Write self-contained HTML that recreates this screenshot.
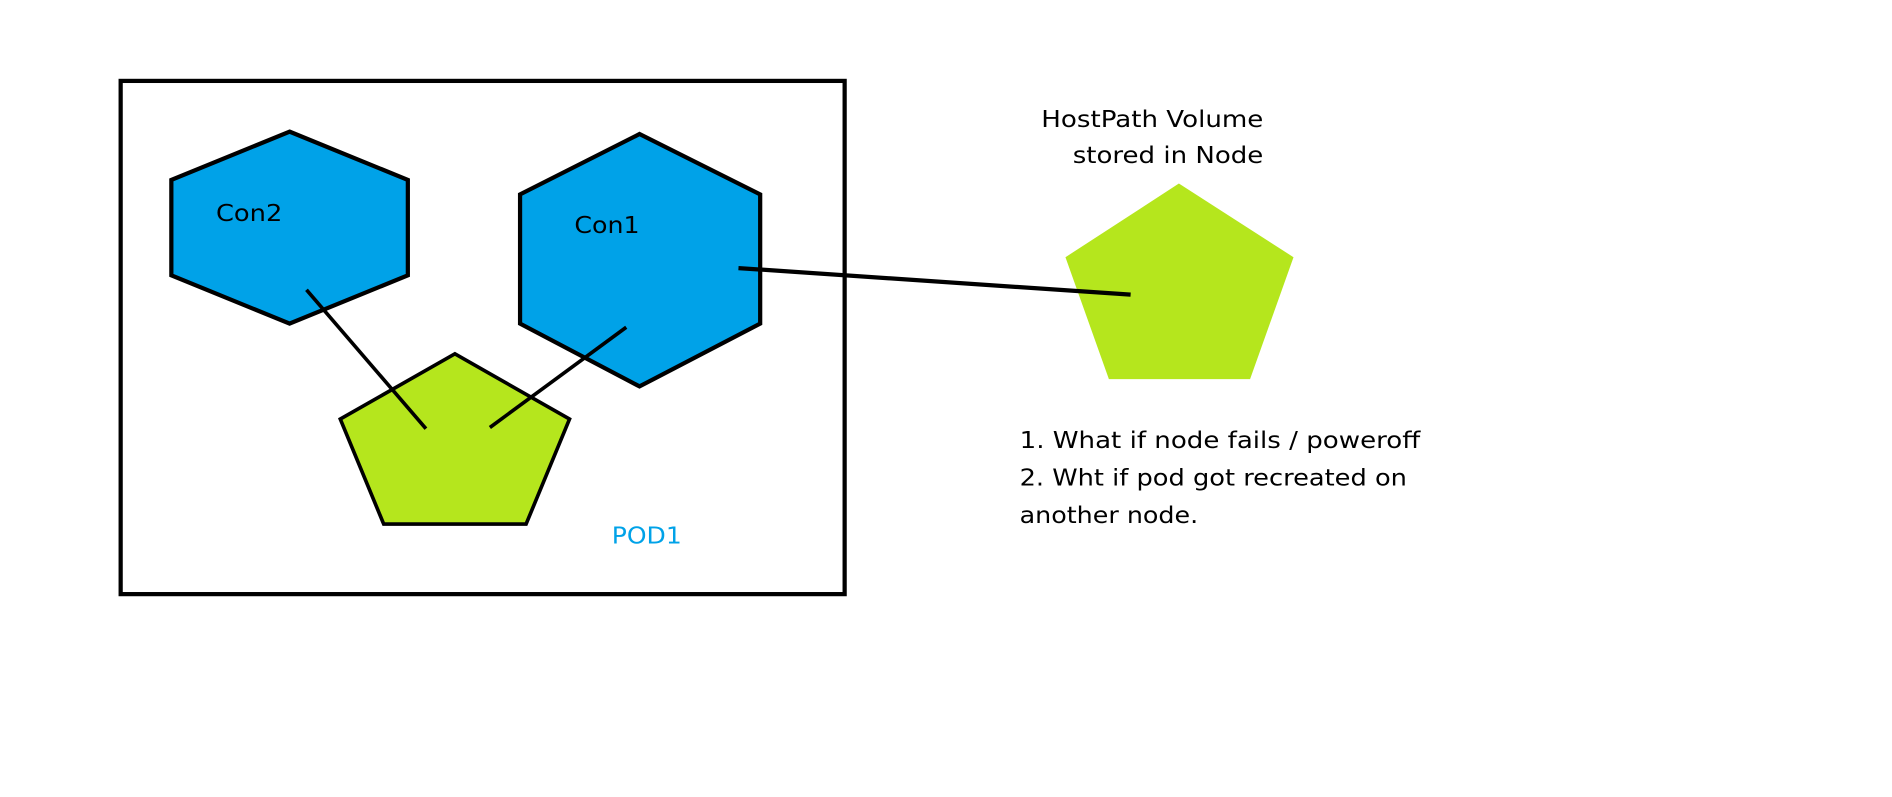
<!DOCTYPE html>
<html><head><meta charset="utf-8"><style>
html,body{margin:0;padding:0;background:#fff;}
svg{display:block;}
text{font-family:"DejaVu Sans","Liberation Sans",sans-serif;}
</style></head><body>
<svg width="1892" height="797" viewBox="0 0 1568 660" preserveAspectRatio="none" xmlns="http://www.w3.org/2000/svg">
<rect x="100" y="67" width="600" height="425" fill="none" stroke="#000" stroke-width="3.5"/>
<polygon points="240,109 338,149 338,228 240,268 142,228 142,149" fill="#00a2e8" stroke="#000" stroke-width="3.5"/>
<polygon points="530,111 630,161 630,268 530,320 431,268 431,161" fill="#00a2e8" stroke="#000" stroke-width="3.5"/>
<polygon points="377,293 472,347 436,434 318,434 282,347" fill="#b5e61d" stroke="#000" stroke-width="3"/>
<polygon points="977,152 1072,213 1036,314 919,314 883,213" fill="#b5e61d"/>
<line x1="254" y1="240" x2="353" y2="355" stroke="#000" stroke-width="3"/>
<line x1="519" y1="271" x2="406" y2="354" stroke="#000" stroke-width="3"/>
<line x1="612" y1="222" x2="937" y2="244" stroke="#000" stroke-width="3.5"/>
<text x="179" y="183" font-size="19" textLength="55" lengthAdjust="spacingAndGlyphs" fill="#000">Con2</text>
<text x="476" y="193" font-size="19" textLength="54" lengthAdjust="spacingAndGlyphs" fill="#000">Con1</text>
<text x="507" y="450" font-size="19" textLength="58" lengthAdjust="spacingAndGlyphs" fill="#00a2e8">POD1</text>
<text x="863" y="105" font-size="19" textLength="184" lengthAdjust="spacingAndGlyphs" fill="#000">HostPath Volume</text>
<text x="889" y="135" font-size="19" textLength="158" lengthAdjust="spacingAndGlyphs" fill="#000">stored in Node</text>
<text x="845" y="371" font-size="19" textLength="332" lengthAdjust="spacingAndGlyphs" fill="#000">1. What if node fails / poweroff</text>
<text x="845" y="402" font-size="19" textLength="321" lengthAdjust="spacingAndGlyphs" fill="#000">2. Wht if pod got recreated on</text>
<text x="845" y="433" font-size="19" textLength="148" lengthAdjust="spacingAndGlyphs" fill="#000">another node.</text>
</svg>
</body></html>
